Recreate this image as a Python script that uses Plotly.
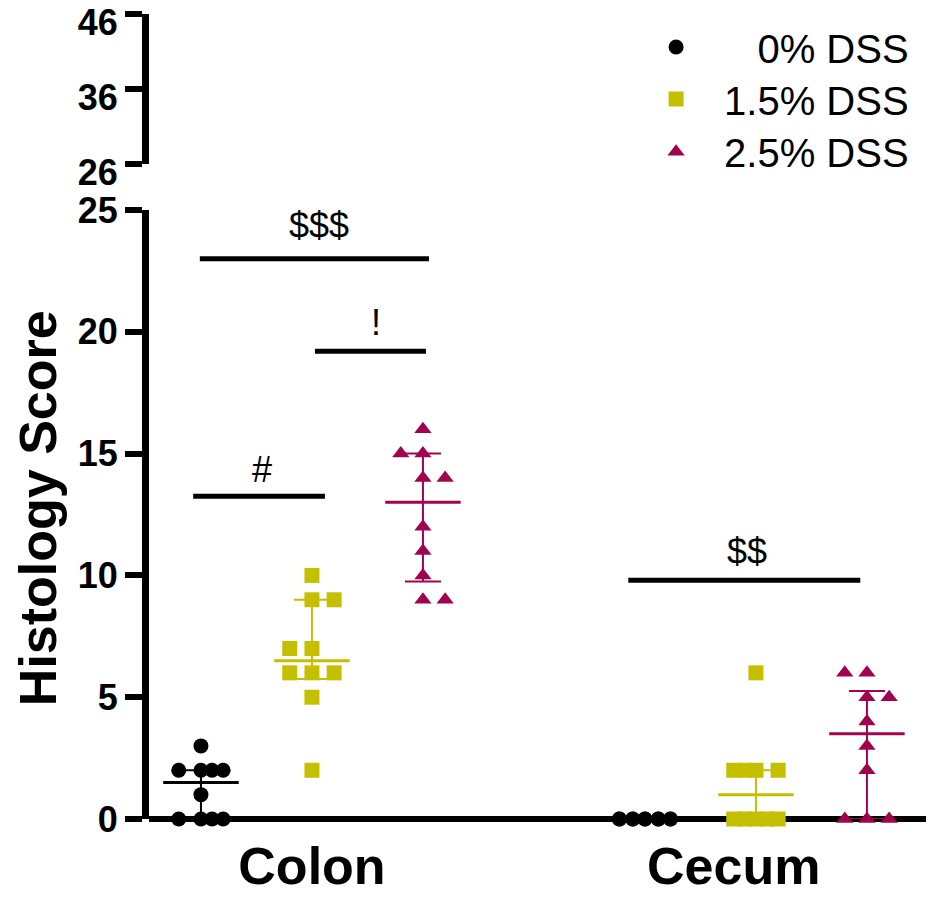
import plotly.graph_objects as go

# ---------------- data ----------------
groups = ["0% DSS", "1.5% DSS", "2.5% DSS"]
legend_names = ["\u00a0\u00a0\u00a00% DSS", "1.5% DSS", "2.5% DSS"]
colors = ["#000000", "#C4C000", "#A0044E"]
symbols = ["circle", "square", "triangle-up"]
marker_sizes = [15, 15, 15]

tissue_labels = ["Colon", "Cecum"]
tissue_centers = [0, 4]          # category centres on the x scale
group_offsets = [-1, 0, 1]       # position of each DSS group inside a tissue
label_positions = [0, 3.8]

# Colon scores
colon_0 = [3, 2, 2, 2, 2, 1, 0, 0, 0, 0]
colon_0_jit = [0, -0.2, 0, 0.1, 0.2, 0, -0.2, 0, 0.1, 0.2]
colon_15 = [10, 9, 9, 7, 7, 6, 6, 6, 5, 2]
colon_15_jit = [0, 0, 0.2, -0.2, 0, -0.2, 0, 0.2, 0, 0]
colon_25 = [16, 15, 15, 14, 14, 12, 11, 10, 9, 9]
colon_25_jit = [0, -0.2, 0, 0, 0.2, 0, 0, 0, 0, 0.2]

# Cecum scores
cecum_0 = [0, 0, 0, 0, 0, 0, 0, 0, 0, 0]
cecum_0_jit = [-0.23, -0.23, -0.11, -0.11, 0, 0, 0.12, 0.12, 0.23, 0.23]
cecum_15 = [6, 2, 2, 2, 2, 0, 0, 0, 0, 0]
cecum_15_jit = [0, -0.2, -0.1, 0, 0.2, -0.2, -0.1, 0, 0.1, 0.2]
cecum_25 = [6, 6, 5, 5, 4, 3, 2, 0, 0, 0]
cecum_25_jit = [-0.2, 0, 0, 0.2, 0, 0, 0, -0.2, 0, 0.2]

# median and interquartile range per group
colon_median = [1.5, 6.5, 13]
colon_q1 = [0, 5.75, 9.75]
colon_q3 = [2, 9, 15]
cecum_median = [0, 1, 3.5]
cecum_q1 = [0, 0, 0]
cecum_q3 = [0, 2, 5.25]

# significance brackets
sig_x0 = [-1.01, 0.027, -1.07, 2.85]
sig_x1 = [1.054, 1.027, 0.117, 4.94]
sig_y = [23.0, 19.2, 13.25, 9.8]
sig_text = ["$$$", "!", "#", "$$"]
sig_text_x = [0.06, 0.58, -0.45, 3.92]
sig_text_y = [24.35, 20.4, 14.35, 11.0]

lower_ticks = [0, 5, 10, 15, 20, 25]
upper_ticks = [26, 36, 46]

FONT = "Liberation Sans, Arial, sans-serif"

scores = {
    "Colon": [(colon_0, colon_0_jit), (colon_15, colon_15_jit), (colon_25, colon_25_jit)],
    "Cecum": [(cecum_0, cecum_0_jit), (cecum_15, cecum_15_jit), (cecum_25, cecum_25_jit)],
}
stats = {
    "Colon": (colon_median, colon_q1, colon_q3),
    "Cecum": (cecum_median, cecum_q1, cecum_q3),
}
legend_ids = ["legend", "legend2", "legend3"]

fig = go.Figure()

# significance bars
for x0, x1, y in zip(sig_x0, sig_x1, sig_y):
    fig.add_trace(go.Scatter(x=[x0, x1], y=[y, y], mode="lines",
                             line=dict(color="black", width=5),
                             showlegend=False, hoverinfo="skip", cliponaxis=False))

# median lines and IQR error bars
for t, centre in zip(tissue_labels, tissue_centers):
    med, q1, q3 = stats[t]
    for g in range(3):
        cx = centre + group_offsets[g]
        fig.add_trace(go.Scatter(x=[cx - 0.34, cx + 0.34], y=[med[g], med[g]], mode="lines",
                                 line=dict(color=colors[g], width=3),
                                 showlegend=False, hoverinfo="skip", cliponaxis=False))
        fig.add_trace(go.Scatter(x=[cx], y=[med[g]], mode="markers",
                                 marker=dict(size=1, color=colors[g], opacity=0),
                                 error_y=dict(type="data", symmetric=False,
                                              array=[q3[g] - med[g]],
                                              arrayminus=[med[g] - q1[g]],
                                              color=colors[g], thickness=2, width=18),
                                 showlegend=False, hoverinfo="skip", cliponaxis=False))

# individual points
for t, centre in zip(tissue_labels, tissue_centers):
    for g in range(3):
        vals, jit = scores[t][g]
        cx = centre + group_offsets[g]
        fig.add_trace(go.Scatter(
            x=[cx + j for j in jit], y=vals, mode="markers",
            marker=dict(symbol=symbols[g], size=marker_sizes[g], color=colors[g], line=dict(width=0)),
            name=legend_names[g], legend=legend_ids[g],
            legendgroup=groups[g], showlegend=(t == "Colon"),
            cliponaxis=False, hoverinfo="skip"))

# dummy trace so the upper (broken) axis segment is drawn
fig.add_trace(go.Scatter(x=[None], y=[None], yaxis="y2", showlegend=False, hoverinfo="skip"))

for txt, tx, ty in zip(sig_text, sig_text_x, sig_text_y):
    fig.add_annotation(x=tx, y=ty, xref="x", yref="y", text=txt, showarrow=False,
                       font=dict(family=FONT, size=36, color="black"),
                       xanchor="center", yanchor="middle")

fig.add_annotation(x=-0.1423, y=0.3863, xref="paper", yref="paper", text="Histology Score",
                   textangle=-90, showarrow=False,
                   font=dict(family=FONT, size=52, color="black", weight="bold"),
                   xanchor="center", yanchor="middle")

axis_common = dict(showline=True, linewidth=7, linecolor="black", ticks="outside",
                   ticklen=17, tickwidth=6, tickcolor="black", showgrid=False,
                   automargin=False, ticklabeloverflow="allow",
                   tickfont=dict(family=FONT, size=36, color="black", weight="bold"))

leg_common = dict(x=0.615, xanchor="left", yanchor="middle", bgcolor="rgba(0,0,0,0)",
                  itemwidth=86, font=dict(family=FONT, size=40, color="black"))

fig.update_layout(
    width=926, height=891,
    margin=dict(l=141, r=6, t=6, b=80, autoexpand=False),
    paper_bgcolor="white", plot_bgcolor="white",
    xaxis=dict(domain=[0, 1], range=[-1.468, 5.55], showline=False, showgrid=False,
               zeroline=False, ticks="", tickvals=label_positions, ticktext=tissue_labels,
               tickfont=dict(family=FONT, size=52, color="black", weight="bold"),
               ticklabelstandoff=12, automargin=False, ticklabeloverflow="allow",
               anchor="y"),
    yaxis=dict(domain=[0, 0.7565], range=[0, 25], tickvals=lower_ticks,
               zeroline=True, zerolinewidth=6, zerolinecolor="black", anchor="x",
               **axis_common),
    yaxis2=dict(domain=[0.8137, 1], range=[26, 46], tickvals=upper_ticks,
                zeroline=False, anchor="x", ticklabelshift=8, **axis_common),
    legend=dict(y=0.959, **leg_common),
    legend2=dict(y=0.8944, **leg_common),
    legend3=dict(y=0.829, **leg_common),
    showlegend=True,
)

fig.write_html("out.html")
